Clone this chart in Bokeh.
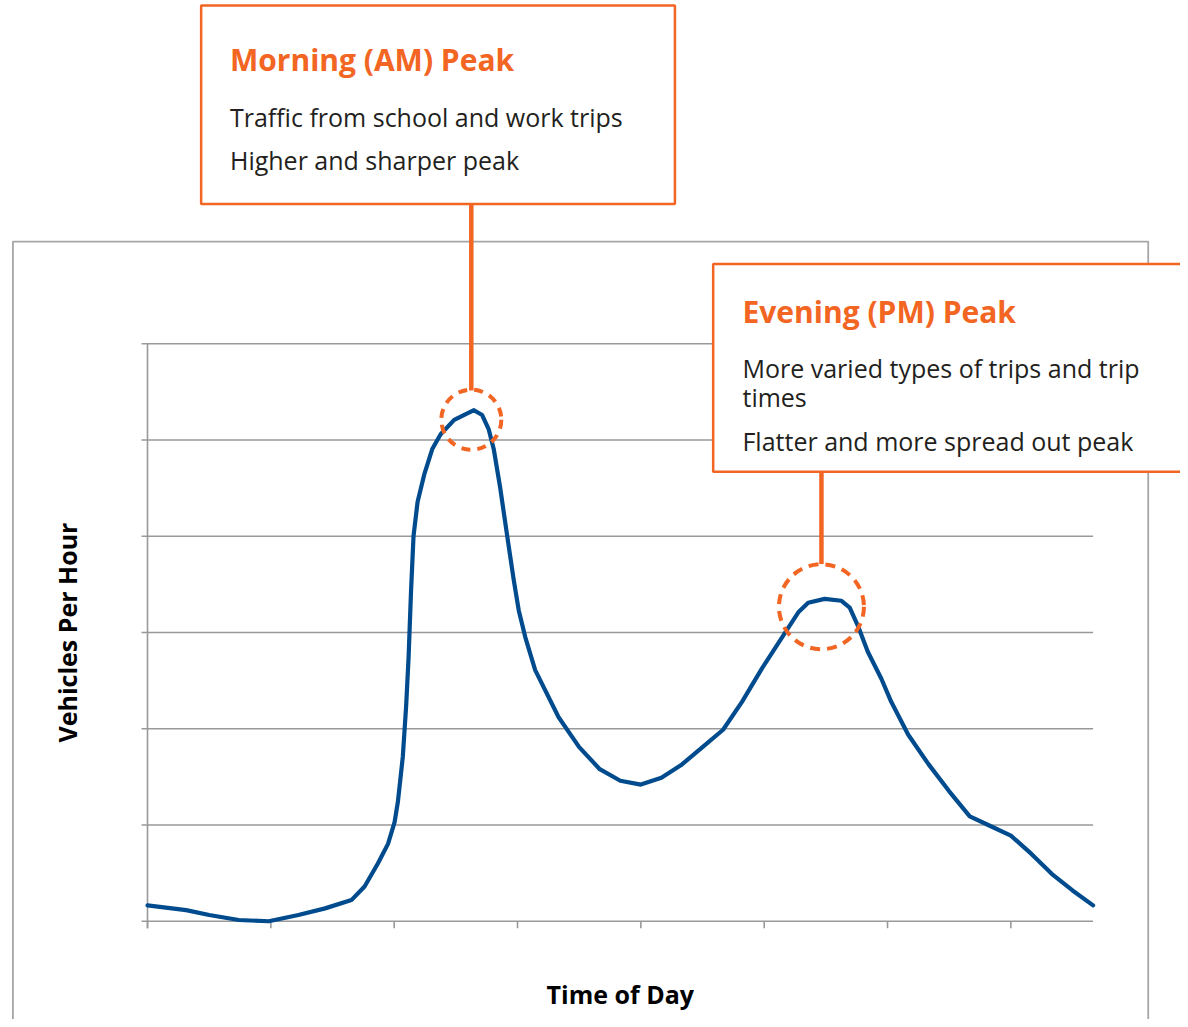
import math
from bokeh.plotting import figure
from bokeh.models import Range1d
from bokeh.core.properties import value
from bokeh.embed import file_html
from bokeh.resources import INLINE

# ---------------- data ----------------
hours = [0.00, 0.94, 1.50, 2.22, 2.95, 3.67, 4.32, 4.96, 5.28, 5.60, 5.85,
         6.01, 6.09, 6.21, 6.29, 6.35, 6.41, 6.47, 6.57, 6.73, 6.93, 7.13,
         7.46, 7.94, 8.14, 8.30, 8.42, 8.58, 8.75, 8.91, 9.03, 9.19, 9.43,
         10.0, 10.5, 11.0, 11.5, 12.0, 12.5, 13.0, 13.5, 14.0, 14.46, 14.95,
         15.51, 15.83, 16.07, 16.47, 16.88, 17.08, 17.28, 17.52, 17.85, 18.09,
         18.5, 19.0, 19.5, 20.0, 20.5, 21.0, 21.5, 22.0, 22.5, 23.0]
vehicles = [16.5, 11.6, 6.5, 1.3, 0.0, 6.5, 13.4, 22.0, 36.1, 59.8, 80.4,
            103, 124, 171, 223, 274, 343, 400, 436, 464, 491, 506,
            521, 531, 526, 511, 491, 450, 400, 354, 323, 295, 261,
            212, 181, 158, 146, 142, 149, 163, 181, 199, 228, 263,
            300, 321, 331, 335, 333, 326, 307, 280, 252, 228,
            194, 163, 135, 109, 99, 89, 70, 49, 32, 16.5]
grid_values = [0, 100, 200, 300, 400, 500, 600]
x_ticks = [0, 3, 6, 9, 12, 15, 18, 21]

am_title = "Morning (AM) Peak"
am_lines = ["Traffic from school and work trips", "Higher and sharper peak"]
pm_title = "Evening (PM) Peak"
pm_lines = ["More varied types of trips and trip", "times", "Flatter and more spread out peak"]
x_title = "Time of Day"
y_title = "Vehicles Per Hour"

# ---------------- layout helpers (reference pixel -> data) ----------------
PX0, PX_PER_H = 148.0, (1100.0 - 148.0) / 23.0
PY0, PY_PER_V = 928.0, 97.0 / 100.0
def X(px):
    return (px - PX0) / PX_PER_H
def Y(py):
    return (PY0 - py) / PY_PER_V

W, H = 1180, 1019
ORANGE = "#f26522"
BLUE = "#004b8d"
GRID = "#999999"
FRAME = "#a6a6a6"
TEXT = "#231f20"
FONT = value("Open Sans")

p = figure(width=W, height=H, output_backend="svg", toolbar_location=None,
           x_axis_location=None, y_axis_location=None, min_border=0,
           x_range=Range1d(X(0), X(1188)), y_range=Range1d(Y(1027), Y(0)))
p.grid.visible = False
p.outline_line_color = None
p.background_fill_color = "white"
p.border_fill_color = "white"

# outer chart frame
p.line([X(12.5), X(12.5), X(1155.5), X(1155.5)], [Y(1040), Y(243), Y(243), Y(1040)],
       line_color=FRAME, line_width=1.8)

# gridlines (with left tick stubs)
p.multi_line([[X(142), 23]] * len(grid_values), [[g, g] for g in grid_values],
             line_color=GRID, line_width=1.6)
# vertical axis line
p.line([0, 0], [Y(935), grid_values[-1]], line_color=GRID, line_width=1.6)
# bottom tick marks
p.multi_line([[t, t] for t in x_ticks], [[0, Y(935)]] * len(x_ticks),
             line_color=GRID, line_width=1.6)

# the traffic curve
p.line(hours, vehicles, line_color=BLUE, line_width=4.2, line_join="round", line_cap="round")

# connectors
p.line([X(474), X(474)], [Y(205), Y(393)], line_color=ORANGE, line_width=4.5)
p.line([X(826.5), X(826.5)], [Y(475), Y(568)], line_color=ORANGE, line_width=4.5)

# dashed circles
p.scatter([X(474)], [Y(422.5)], marker="circle", size=60, fill_color=None,
          line_color=ORANGE, line_width=4, line_dash="9 7")
p.scatter([X(826.5)], [Y(611)], marker="circle", size=85, fill_color=None,
          line_color=ORANGE, line_width=4, line_dash="10 7")

# annotation boxes
p.quad(left=[X(202)], right=[X(679)], top=[Y(5)], bottom=[Y(205)],
       fill_color="white", line_color=ORANGE, line_width=2.5)
p.quad(left=[X(717.5)], right=[X(1200)], top=[Y(265.5)], bottom=[Y(475)],
       fill_color="white", line_color=ORANGE, line_width=2.5)

# box texts
p.text([X(231)], [Y(59)], text=[am_title], text_font=FONT, text_font_style="bold",
       text_font_size="30px", text_color=ORANGE, text_baseline="alphabetic")
p.text([X(231)] * 2, [Y(117), Y(161)], text=am_lines, text_font=FONT,
       text_font_size="25px", text_color=TEXT, text_baseline="alphabetic")
p.text([X(747)], [Y(313)], text=[pm_title], text_font=FONT, text_font_style="bold",
       text_font_size="30px", text_color=ORANGE, text_baseline="alphabetic")
p.text([X(747)] * 3, [Y(370), Y(400), Y(444)], text=pm_lines, text_font=FONT,
       text_font_size="25px", text_color=TEXT, text_baseline="alphabetic")

# axis titles
p.text([X(624)], [Y(1001)], text=[x_title], text_font=FONT, text_font_style="bold",
       text_font_size="25px", text_color="black", text_align="center",
       text_baseline="alphabetic")
p.text([X(67)], [Y(637)], text=[y_title], text_font=FONT, text_font_style="bold",
       text_font_size="25px", text_color="black", text_align="center",
       text_baseline="alphabetic", angle=math.pi / 2)

open("out.html", "w").write(file_html(p, INLINE))
